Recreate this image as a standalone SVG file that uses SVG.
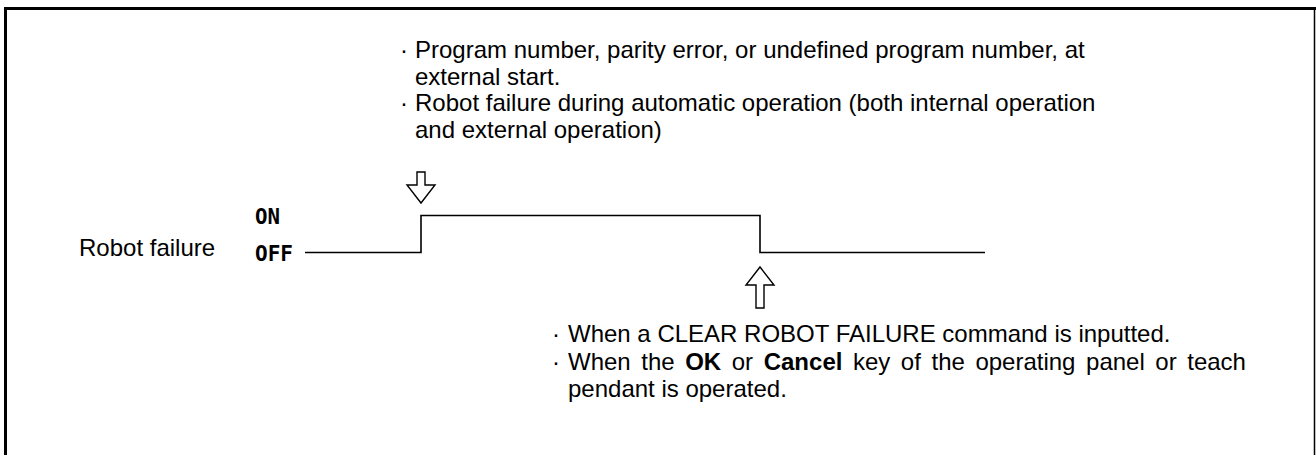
<svg xmlns="http://www.w3.org/2000/svg" width="1316" height="455" viewBox="0 0 1316 455">
<style>
.t{font-family:"Liberation Sans",Arial,sans-serif;font-size:24px;fill:#000}
.m{font-family:"DejaVu Sans Mono","Liberation Mono",monospace;font-size:21px;font-weight:bold;fill:#000}
.ln{fill:none;stroke:#000;stroke-width:1.6}
.ar{fill:#fff;stroke:#000;stroke-width:1.4;stroke-linejoin:miter}
.b{font-weight:bold}
</style>
<rect width="1316" height="455" fill="#fff"/>
<g id="frame">
<path d="M5.5,455 V8.5 H1316" fill="none" stroke="#000" stroke-width="3"/>
<line x1="1314.5" y1="8" x2="1314.5" y2="455" stroke="#000" stroke-width="1.5"/>
</g>
<g id="top-note">
<text class="t" x="400" y="58">·</text>
<text class="t" x="415" y="58">Program number, parity error, or undefined program number, at</text>
<text class="t" x="415" y="84.5">external start.</text>
<text class="t" x="400" y="111">·</text>
<text class="t" x="415" y="111">Robot failure during automatic operation (both internal operation</text>
<text class="t" x="415" y="137.5">and external operation)</text>
</g>
<g id="signal-label">
<text class="t" x="79" y="256">Robot failure</text>
<text class="m" x="255" y="223.5" textLength="25" lengthAdjust="spacingAndGlyphs">ON</text>
<text class="m" x="255" y="261" textLength="38" lengthAdjust="spacingAndGlyphs">OFF</text>
</g>
<g id="connectors">
<path class="ln" d="M305,252.5 H421 V215.5 H760 V252.5 H985"/>
<polygon class="ar" points="417,172 425,172 425,185 435,185 421,203 407,185 417,185"/>
<polygon class="ar" points="760,267 774,285 764,285 764,308 756,308 756,285 746,285"/>
</g>
<g id="bottom-note">
<text class="t" x="552" y="342">·</text>
<text class="t" x="568" y="342">When a CLEAR ROBOT FAILURE command is inputted.</text>
<text class="t" x="552" y="370">·</text>
<text class="t" x="568" y="370" word-spacing="3.9">When the <tspan class="b">OK</tspan> or <tspan class="b">Cancel</tspan> key of the operating panel or teach</text>
<text class="t" x="568" y="397">pendant is operated.</text>
</g>
</svg>
